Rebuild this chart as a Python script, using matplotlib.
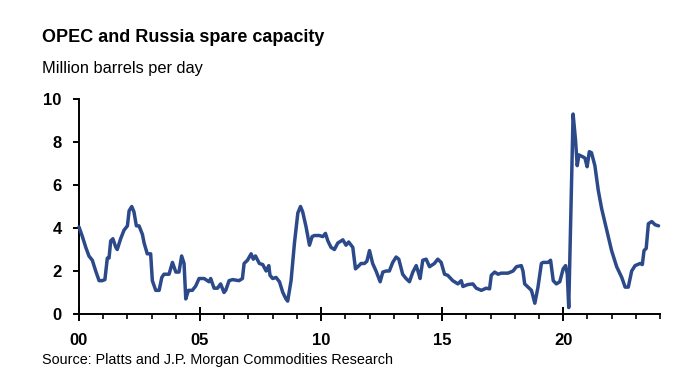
import matplotlib
matplotlib.use("Agg")
import matplotlib.pyplot as plt
from matplotlib.ticker import MultipleLocator, FixedLocator
from matplotlib import font_manager

# ---- data ----
years = [
    2000.00, 2000.14, 2000.28, 2000.41, 2000.55, 2000.69, 2000.83, 2000.96, 2001.07, 2001.17,
    2001.24, 2001.31, 2001.40, 2001.52, 2001.58, 2001.72, 2001.86, 2002.00, 2002.07, 2002.18,
    2002.27, 2002.37, 2002.48, 2002.62, 2002.69, 2002.82, 2002.96, 2003.03, 2003.17, 2003.31,
    2003.42, 2003.51, 2003.72, 2003.86, 2004.00, 2004.13, 2004.24, 2004.34, 2004.41, 2004.52,
    2004.68, 2004.82, 2004.96, 2005.17, 2005.37, 2005.44, 2005.58, 2005.72, 2005.85, 2005.99,
    2006.06, 2006.20, 2006.35, 2006.61, 2006.75, 2006.82, 2006.96, 2007.11, 2007.20, 2007.29,
    2007.45, 2007.59, 2007.73, 2007.84, 2007.89, 2008.00, 2008.14, 2008.28, 2008.42, 2008.55,
    2008.62, 2008.76, 2008.90, 2009.04, 2009.15, 2009.24, 2009.38, 2009.52, 2009.63, 2009.72,
    2009.93, 2010.07, 2010.18, 2010.28, 2010.41, 2010.55, 2010.69, 2010.90, 2011.03, 2011.14,
    2011.31, 2011.42, 2011.52, 2011.65, 2011.79, 2011.89, 2012.00, 2012.13, 2012.27, 2012.44,
    2012.55, 2012.69, 2012.82, 2012.96, 2013.10, 2013.21, 2013.37, 2013.51, 2013.65, 2013.79,
    2013.93, 2014.00, 2014.09, 2014.20, 2014.34, 2014.48, 2014.68, 2014.82, 2014.96, 2015.10,
    2015.23, 2015.44, 2015.65, 2015.79, 2015.86, 2016.06, 2016.27, 2016.41, 2016.62, 2016.82,
    2016.96, 2017.03, 2017.17, 2017.31, 2017.44, 2017.72, 2017.93, 2018.07, 2018.27, 2018.34,
    2018.41, 2018.55, 2018.69, 2018.83, 2018.96, 2019.10, 2019.17, 2019.38, 2019.48, 2019.59,
    2019.72, 2019.86, 2020.00, 2020.10, 2020.17, 2020.23, 2020.41, 2020.51, 2020.58, 2020.65,
    2020.83, 2020.90, 2020.99, 2021.08, 2021.17, 2021.31, 2021.45, 2021.59, 2021.80, 2022.00,
    2022.21, 2022.42, 2022.56, 2022.69, 2022.83, 2022.97, 2023.18, 2023.27, 2023.34, 2023.43,
    2023.52, 2023.66, 2023.80, 2023.94,
]
spare_capacity = [
    4.05, 3.6, 3.1, 2.7, 2.5, 2.0, 1.55, 1.55, 1.6, 2.6,
    2.6, 3.4, 3.5, 3.1, 3.0, 3.5, 3.9, 4.1, 4.8, 5.0,
    4.75, 4.1, 4.1, 3.7, 3.3, 2.8, 2.8, 1.55, 1.1, 1.1,
    1.7, 1.85, 1.85, 2.4, 1.95, 1.95, 2.7, 2.35, 0.7, 1.1,
    1.1, 1.3, 1.65, 1.65, 1.5, 1.65, 1.2, 1.2, 1.4, 1.0,
    1.1, 1.55, 1.6, 1.55, 1.65, 2.35, 2.5, 2.8, 2.55, 2.7,
    2.35, 2.3, 2.0, 2.25, 1.8, 1.65, 1.7, 1.5, 1.0, 0.7,
    0.6, 1.55, 3.3, 4.7, 5.0, 4.75, 4.05, 3.2, 3.6, 3.65,
    3.65, 3.6, 3.75, 3.4, 3.1, 3.0, 3.3, 3.45, 3.2, 3.35,
    3.1, 2.1, 2.2, 2.35, 2.35, 2.45, 2.95, 2.35, 2.0, 1.5,
    1.95, 2.0, 2.0, 2.4, 2.65, 2.55, 1.85, 1.65, 1.5, 1.95,
    2.25, 2.0, 1.65, 2.5, 2.55, 2.2, 2.35, 2.55, 2.4, 1.85,
    1.8, 1.55, 1.4, 1.55, 1.28, 1.37, 1.4, 1.2, 1.1, 1.2,
    1.17, 1.8, 1.95, 1.85, 1.9, 1.9, 2.0, 2.2, 2.25, 2.0,
    1.4, 1.25, 1.1, 0.5, 1.25, 2.35, 2.4, 2.4, 2.5, 1.55,
    1.4, 1.5, 2.1, 2.25, 1.85, 0.3, 9.3, 8.1, 6.9, 7.4,
    7.3, 7.25, 6.85, 7.55, 7.5, 6.9, 5.75, 4.9, 3.9, 2.95,
    2.2, 1.7, 1.25, 1.25, 2.0, 2.25, 2.35, 2.3, 2.95, 3.05,
    4.2, 4.3, 4.15, 4.1,
]
y_ticks = [0, 2, 4, 6, 8, 10]
x_major = [2000, 2005, 2010, 2015, 2020]
x_labels = ["00", "05", "10", "15", "20"]

title = "OPEC and Russia spare capacity"
subtitle = "Million barrels per day"
source = "Source: Platts and J.P. Morgan Commodities Research"

# ---- fonts ----
plt.rcParams['font.family'] = ['Liberation Sans', 'DejaVu Sans']
installed = {f.name for f in font_manager.fontManager.ttflist}
if 'Liberation Sans Narrow' in installed:
    source_family = ['Liberation Sans Narrow', 'Liberation Sans']
    source_size = 12.6
else:
    source_family = ['Liberation Sans', 'DejaVu Sans']
    source_size = 10.4

# ---- figure ----
fig = plt.figure(figsize=(6.8, 3.74), dpi=100)
fig.patch.set_facecolor('white')
ax = fig.add_axes([79/680, 1 - 314/374, (660 - 79)/680, (314 - 99)/374])

ax.plot(years, spare_capacity, color='#2c4a8a', lw=2.5, solid_joinstyle='round',
        solid_capstyle='round', clip_on=False, zorder=3)

ax.set_xlim(2000, 2024)
ax.set_ylim(0, 10)
for s in ['top', 'right']:
    ax.spines[s].set_visible(False)
for s in ['left', 'bottom']:
    ax.spines[s].set_linewidth(1.4)
    ax.spines[s].set_color('black')

ax.set_yticks(y_ticks)
ax.set_yticklabels([str(v) for v in y_ticks], fontsize=12, fontweight='bold')
ax.xaxis.set_major_locator(FixedLocator(x_major))
ax.set_xticklabels(x_labels, fontsize=12, fontweight='bold')
ax.xaxis.set_minor_locator(MultipleLocator(1))
ax.tick_params(axis='y', which='major', direction='out', length=4.5, width=1.4, pad=8)
ax.tick_params(axis='x', which='major', direction='inout', length=9.4, width=1.4, pad=9)
ax.tick_params(axis='x', which='minor', direction='out', length=3.4, width=1.2)

fig.text(42/680, 1 - 42/374, title, fontsize=13, fontweight='bold', ha='left', va='baseline')
fig.text(42/680, 1 - 73/374, subtitle, fontsize=11.8, ha='left', va='baseline')
fig.text(42/680, 1 - 364/374, source, fontsize=source_size, family=source_family,
         ha='left', va='baseline')

fig.savefig('out.png', dpi=100, facecolor='white')
